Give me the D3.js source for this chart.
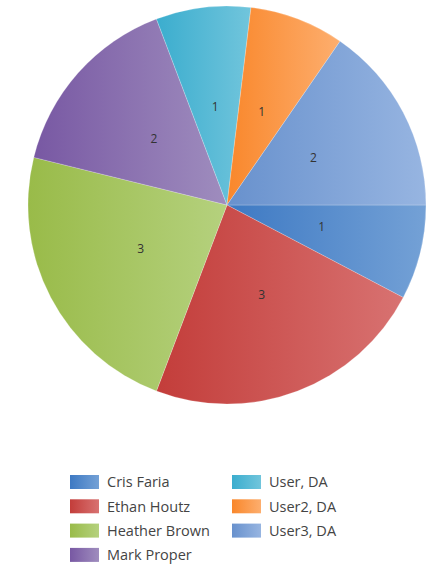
<!DOCTYPE html>
<html>
<head>
<meta charset="utf-8">
<script src="https://cdn.jsdelivr.net/npm/d3@7"></script>
<style>
  body { margin: 0; background: #fff; }
  text { font-family: "Open Sans", "DejaVu Sans", sans-serif; }
</style>
</head>
<body>
<div id="chart"></div>
<script>
// Pie data
const names = ["Cris Faria", "Ethan Houtz", "Heather Brown", "Mark Proper", "User, DA", "User2, DA", "User3, DA"];
const counts = [1, 3, 3, 2, 1, 1, 2];
// gradient ends: dark (left) -> light (right)
const darkColors = ["#3d79c3", "#c33d3a", "#99bb49", "#7858a3", "#3badce", "#f9872b", "#6891cd"];
const lightColors = ["#74a1d6", "#d87271", "#b5d17e", "#9f8dbe", "#71c5dc", "#fdae6e", "#97b5e1"];

const W = 436, H = 566;
const cx = 227, cy = 205, r = 199;

const svg = d3.select("#chart").append("svg")
    .attr("width", W)
    .attr("height", H);

const defs = svg.append("defs");
names.forEach((n, i) => {
    const grad = defs.append("linearGradient")
        .attr("id", "grad" + i)
        .attr("x1", 0).attr("x2", 1)
        .attr("y1", 0).attr("y2", 0);
    grad.append("stop").attr("offset", "0%").attr("stop-color", darkColors[i]);
    grad.append("stop").attr("offset", "100%").attr("stop-color", lightColors[i]);
});

const data = names.map((n, i) => ({name: n, value: counts[i], idx: i}));

// start at 3 o'clock and go clockwise
const pie = d3.pie()
    .sort(null)
    .value(d => d.value)
    .startAngle(Math.PI / 2)
    .endAngle(Math.PI / 2 + 2 * Math.PI);

const arc = d3.arc().innerRadius(0).outerRadius(r);
const labelArc = d3.arc().innerRadius(r * 0.49).outerRadius(r * 0.49);

const g = svg.append("g")
    .attr("transform", `translate(${cx},${cy})`);

const slices = g.selectAll(".slice")
    .data(pie(data))
    .enter().append("g")
    .attr("class", "slice");

slices.append("path")
    .attr("d", arc)
    .style("fill", d => `url(#grad${d.data.idx})`)
    .style("stroke", "rgba(255,255,255,0.35)")
    .style("stroke-width", 0.6);

slices.append("text")
    .attr("transform", d => `translate(${labelArc.centroid(d)})`)
    .attr("text-anchor", "middle")
    .attr("dy", "0.2em")
    .style("font-size", "12px")
    .style("fill", "#333")
    .text(d => d.data.value);

// Legend, filled column by column
const legend = svg.append("g")
    .attr("class", "legend");

const perCol = 4;
const colX = [70, 232];
const rowY = 475, rowStep = 24.3;

const items = legend.selectAll(".legend-item")
    .data(data)
    .enter().append("g")
    .attr("class", "legend-item")
    .attr("transform", (d, i) => `translate(${colX[Math.floor(i / perCol)]}, ${rowY + (i % perCol) * rowStep})`);

items.append("rect")
    .attr("width", 29)
    .attr("height", 14)
    .style("fill", d => `url(#grad${d.idx})`);

items.append("text")
    .attr("x", 37)
    .attr("y", 7)
    .attr("dy", "0.36em")
    .style("font-size", "14.5px")
    .style("fill", "#444")
    .text(d => d.name);
</script>
</body>
</html>
